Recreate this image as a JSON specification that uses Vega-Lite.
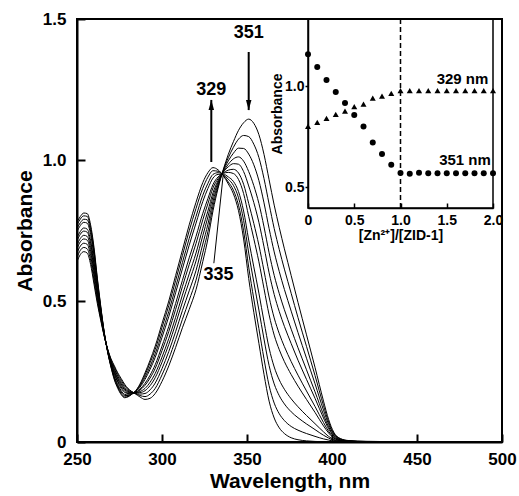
{
"$schema":"https://vega.github.io/schema/vega-lite/v6.json",
"width":425,"height":423,
"autosize":{"type":"none"},
"padding":{"left":77,"top":19,"right":17,"bottom":54},
"config":{
 "view":{"stroke":"black","strokeWidth":2},
 "font":"Liberation Sans",
 "axis":{"grid":false,"domainColor":"black","tickColor":"black","labelColor":"black","titleColor":"black","labelFont":"Liberation Sans","titleFont":"Liberation Sans","labelFontWeight":"bold","titleFontWeight":"bold","labelFlush":false,"labelOverlap":false},
 "text":{"font":"Liberation Sans","fontWeight":"bold","color":"black"}
},
"datasets":{
"spec":[
{"s":0,"w":250,"a":0.64},{"s":1,"w":250,"a":0.655},{"s":2,"w":250,"a":0.671},{"s":3,"w":250,"a":0.686},{"s":4,"w":250,"a":0.699},{"s":5,"w":250,"a":0.714},{"s":6,"w":250,"a":0.725},{"s":7,"w":250,"a":0.746},{"s":8,"w":250,"a":0.758},{"s":9,"w":250,"a":0.77},{"s":10,"w":250,"a":0.78},
{"s":0,"w":252,"a":0.665},{"s":1,"w":252,"a":0.68},{"s":2,"w":252,"a":0.695},{"s":3,"w":252,"a":0.71},{"s":4,"w":252,"a":0.722},{"s":5,"w":252,"a":0.737},{"s":6,"w":252,"a":0.747},{"s":7,"w":252,"a":0.768},{"s":8,"w":252,"a":0.778},{"s":9,"w":252,"a":0.791},{"s":10,"w":252,"a":0.8},
{"s":0,"w":254,"a":0.675},{"s":1,"w":254,"a":0.69},{"s":2,"w":254,"a":0.705},{"s":3,"w":254,"a":0.72},{"s":4,"w":254,"a":0.733},{"s":5,"w":254,"a":0.748},{"s":6,"w":254,"a":0.759},{"s":7,"w":254,"a":0.779},{"s":8,"w":254,"a":0.79},{"s":9,"w":254,"a":0.802},{"s":10,"w":254,"a":0.812},
{"s":0,"w":256,"a":0.67},{"s":1,"w":256,"a":0.685},{"s":2,"w":256,"a":0.701},{"s":3,"w":256,"a":0.716},{"s":4,"w":256,"a":0.729},{"s":5,"w":256,"a":0.744},{"s":6,"w":256,"a":0.755},{"s":7,"w":256,"a":0.776},{"s":8,"w":256,"a":0.788},{"s":9,"w":256,"a":0.8},{"s":10,"w":256,"a":0.81},
{"s":0,"w":258,"a":0.63},{"s":1,"w":258,"a":0.645},{"s":2,"w":258,"a":0.661},{"s":3,"w":258,"a":0.676},{"s":4,"w":258,"a":0.689},{"s":5,"w":258,"a":0.704},{"s":6,"w":258,"a":0.715},{"s":7,"w":258,"a":0.736},{"s":8,"w":258,"a":0.748},{"s":9,"w":258,"a":0.76},{"s":10,"w":258,"a":0.77},
{"s":0,"w":260,"a":0.56},{"s":1,"w":260,"a":0.574},{"s":2,"w":260,"a":0.589},{"s":3,"w":260,"a":0.603},{"s":4,"w":260,"a":0.615},{"s":5,"w":260,"a":0.629},{"s":6,"w":260,"a":0.639},{"s":7,"w":260,"a":0.659},{"s":8,"w":260,"a":0.669},{"s":9,"w":260,"a":0.681},{"s":10,"w":260,"a":0.69},
{"s":0,"w":262,"a":0.49},{"s":1,"w":262,"a":0.5},{"s":2,"w":262,"a":0.51},{"s":3,"w":262,"a":0.52},{"s":4,"w":262,"a":0.528},{"s":5,"w":262,"a":0.538},{"s":6,"w":262,"a":0.545},{"s":7,"w":262,"a":0.558},{"s":8,"w":262,"a":0.566},{"s":9,"w":262,"a":0.574},{"s":10,"w":262,"a":0.58},
{"s":0,"w":264,"a":0.43},{"s":1,"w":264,"a":0.436},{"s":2,"w":264,"a":0.441},{"s":3,"w":264,"a":0.447},{"s":4,"w":264,"a":0.451},{"s":5,"w":264,"a":0.457},{"s":6,"w":264,"a":0.461},{"s":7,"w":264,"a":0.468},{"s":8,"w":264,"a":0.472},{"s":9,"w":264,"a":0.477},{"s":10,"w":264,"a":0.48},
{"s":0,"w":266,"a":0.375},{"s":1,"w":266,"a":0.377},{"s":2,"w":266,"a":0.378},{"s":3,"w":266,"a":0.38},{"s":4,"w":266,"a":0.381},{"s":5,"w":266,"a":0.383},{"s":6,"w":266,"a":0.384},{"s":7,"w":266,"a":0.386},{"s":8,"w":266,"a":0.388},{"s":9,"w":266,"a":0.389},{"s":10,"w":266,"a":0.39},
{"s":0,"w":268,"a":0.33},{"s":1,"w":268,"a":0.329},{"s":2,"w":268,"a":0.328},{"s":3,"w":268,"a":0.327},{"s":4,"w":268,"a":0.326},{"s":5,"w":268,"a":0.325},{"s":6,"w":268,"a":0.324},{"s":7,"w":268,"a":0.322},{"s":8,"w":268,"a":0.322},{"s":9,"w":268,"a":0.321},{"s":10,"w":268,"a":0.32},
{"s":0,"w":270,"a":0.295},{"s":1,"w":270,"a":0.292},{"s":2,"w":270,"a":0.288},{"s":3,"w":270,"a":0.285},{"s":4,"w":270,"a":0.282},{"s":5,"w":270,"a":0.279},{"s":6,"w":270,"a":0.277},{"s":7,"w":270,"a":0.272},{"s":8,"w":270,"a":0.27},{"s":9,"w":270,"a":0.267},{"s":10,"w":270,"a":0.265},
{"s":0,"w":272,"a":0.27},{"s":1,"w":272,"a":0.265},{"s":2,"w":272,"a":0.259},{"s":3,"w":272,"a":0.254},{"s":4,"w":272,"a":0.249},{"s":5,"w":272,"a":0.244},{"s":6,"w":272,"a":0.24},{"s":7,"w":272,"a":0.232},{"s":8,"w":272,"a":0.228},{"s":9,"w":272,"a":0.224},{"s":10,"w":272,"a":0.22},
{"s":0,"w":274,"a":0.245},{"s":1,"w":274,"a":0.239},{"s":2,"w":274,"a":0.233},{"s":3,"w":274,"a":0.227},{"s":4,"w":274,"a":0.222},{"s":5,"w":274,"a":0.216},{"s":6,"w":274,"a":0.211},{"s":7,"w":274,"a":0.203},{"s":8,"w":274,"a":0.199},{"s":9,"w":274,"a":0.194},{"s":10,"w":274,"a":0.19},
{"s":0,"w":276,"a":0.225},{"s":1,"w":276,"a":0.219},{"s":2,"w":276,"a":0.212},{"s":3,"w":276,"a":0.206},{"s":4,"w":276,"a":0.201},{"s":5,"w":276,"a":0.195},{"s":6,"w":276,"a":0.19},{"s":7,"w":276,"a":0.182},{"s":8,"w":276,"a":0.177},{"s":9,"w":276,"a":0.172},{"s":10,"w":276,"a":0.168},
{"s":0,"w":278,"a":0.205},{"s":1,"w":278,"a":0.2},{"s":2,"w":278,"a":0.194},{"s":3,"w":278,"a":0.189},{"s":4,"w":278,"a":0.185},{"s":5,"w":278,"a":0.18},{"s":6,"w":278,"a":0.176},{"s":7,"w":278,"a":0.169},{"s":8,"w":278,"a":0.165},{"s":9,"w":278,"a":0.16},{"s":10,"w":278,"a":0.157},
{"s":0,"w":280,"a":0.19},{"s":1,"w":280,"a":0.187},{"s":2,"w":280,"a":0.183},{"s":3,"w":280,"a":0.18},{"s":4,"w":280,"a":0.177},{"s":5,"w":280,"a":0.174},{"s":6,"w":280,"a":0.172},{"s":7,"w":280,"a":0.167},{"s":8,"w":280,"a":0.165},{"s":9,"w":280,"a":0.162},{"s":10,"w":280,"a":0.16},
{"s":0,"w":282,"a":0.18},{"s":1,"w":282,"a":0.179},{"s":2,"w":282,"a":0.177},{"s":3,"w":282,"a":0.176},{"s":4,"w":282,"a":0.175},{"s":5,"w":282,"a":0.174},{"s":6,"w":282,"a":0.173},{"s":7,"w":282,"a":0.171},{"s":8,"w":282,"a":0.17},{"s":9,"w":282,"a":0.169},{"s":10,"w":282,"a":0.168},
{"s":0,"w":284,"a":0.172},{"s":1,"w":284,"a":0.173},{"s":2,"w":284,"a":0.173},{"s":3,"w":284,"a":0.174},{"s":4,"w":284,"a":0.175},{"s":5,"w":284,"a":0.175},{"s":6,"w":284,"a":0.176},{"s":7,"w":284,"a":0.177},{"s":8,"w":284,"a":0.177},{"s":9,"w":284,"a":0.178},{"s":10,"w":284,"a":0.178},
{"s":0,"w":287,"a":0.16},{"s":1,"w":287,"a":0.165},{"s":2,"w":287,"a":0.17},{"s":3,"w":287,"a":0.175},{"s":4,"w":287,"a":0.179},{"s":5,"w":287,"a":0.184},{"s":6,"w":287,"a":0.187},{"s":7,"w":287,"a":0.194},{"s":8,"w":287,"a":0.198},{"s":9,"w":287,"a":0.202},{"s":10,"w":287,"a":0.205},
{"s":0,"w":290,"a":0.151},{"s":1,"w":290,"a":0.161},{"s":2,"w":290,"a":0.172},{"s":3,"w":290,"a":0.182},{"s":4,"w":290,"a":0.19},{"s":5,"w":290,"a":0.201},{"s":6,"w":290,"a":0.208},{"s":7,"w":290,"a":0.222},{"s":8,"w":290,"a":0.23},{"s":9,"w":290,"a":0.238},{"s":10,"w":290,"a":0.245},
{"s":0,"w":293,"a":0.155},{"s":1,"w":293,"a":0.17},{"s":2,"w":293,"a":0.185},{"s":3,"w":293,"a":0.2},{"s":4,"w":293,"a":0.212},{"s":5,"w":293,"a":0.227},{"s":6,"w":293,"a":0.237},{"s":7,"w":293,"a":0.258},{"s":8,"w":293,"a":0.268},{"s":9,"w":293,"a":0.281},{"s":10,"w":293,"a":0.29},
{"s":0,"w":296,"a":0.172},{"s":1,"w":296,"a":0.19},{"s":2,"w":296,"a":0.209},{"s":3,"w":296,"a":0.228},{"s":4,"w":296,"a":0.243},{"s":5,"w":296,"a":0.261},{"s":6,"w":296,"a":0.274},{"s":7,"w":296,"a":0.3},{"s":8,"w":296,"a":0.313},{"s":9,"w":296,"a":0.328},{"s":10,"w":296,"a":0.34},
{"s":0,"w":300,"a":0.215},{"s":1,"w":300,"a":0.238},{"s":2,"w":300,"a":0.26},{"s":3,"w":300,"a":0.283},{"s":4,"w":300,"a":0.301},{"s":5,"w":300,"a":0.324},{"s":6,"w":300,"a":0.34},{"s":7,"w":300,"a":0.371},{"s":8,"w":300,"a":0.387},{"s":9,"w":300,"a":0.406},{"s":10,"w":300,"a":0.42},
{"s":0,"w":304,"a":0.27},{"s":1,"w":304,"a":0.295},{"s":2,"w":304,"a":0.321},{"s":3,"w":304,"a":0.346},{"s":4,"w":304,"a":0.367},{"s":5,"w":304,"a":0.392},{"s":6,"w":304,"a":0.41},{"s":7,"w":304,"a":0.445},{"s":8,"w":304,"a":0.463},{"s":9,"w":304,"a":0.484},{"s":10,"w":304,"a":0.5},
{"s":0,"w":308,"a":0.335},{"s":1,"w":308,"a":0.363},{"s":2,"w":308,"a":0.391},{"s":3,"w":308,"a":0.419},{"s":4,"w":308,"a":0.442},{"s":5,"w":308,"a":0.47},{"s":6,"w":308,"a":0.491},{"s":7,"w":308,"a":0.529},{"s":8,"w":308,"a":0.549},{"s":9,"w":308,"a":0.572},{"s":10,"w":308,"a":0.59},
{"s":0,"w":312,"a":0.405},{"s":1,"w":312,"a":0.435},{"s":2,"w":312,"a":0.466},{"s":3,"w":312,"a":0.496},{"s":4,"w":312,"a":0.521},{"s":5,"w":312,"a":0.551},{"s":6,"w":312,"a":0.573},{"s":7,"w":312,"a":0.614},{"s":8,"w":312,"a":0.636},{"s":9,"w":312,"a":0.661},{"s":10,"w":312,"a":0.68},
{"s":0,"w":316,"a":0.47},{"s":1,"w":316,"a":0.503},{"s":2,"w":316,"a":0.536},{"s":3,"w":316,"a":0.569},{"s":4,"w":316,"a":0.596},{"s":5,"w":316,"a":0.629},{"s":6,"w":316,"a":0.653},{"s":7,"w":316,"a":0.698},{"s":8,"w":316,"a":0.722},{"s":9,"w":316,"a":0.749},{"s":10,"w":316,"a":0.77},
{"s":0,"w":320,"a":0.54},{"s":1,"w":320,"a":0.574},{"s":2,"w":320,"a":0.608},{"s":3,"w":320,"a":0.642},{"s":4,"w":320,"a":0.67},{"s":5,"w":320,"a":0.704},{"s":6,"w":320,"a":0.729},{"s":7,"w":320,"a":0.776},{"s":8,"w":320,"a":0.8},{"s":9,"w":320,"a":0.828},{"s":10,"w":320,"a":0.85},
{"s":0,"w":324,"a":0.64},{"s":1,"w":324,"a":0.671},{"s":2,"w":324,"a":0.702},{"s":3,"w":324,"a":0.732},{"s":4,"w":324,"a":0.758},{"s":5,"w":324,"a":0.788},{"s":6,"w":324,"a":0.811},{"s":7,"w":324,"a":0.853},{"s":8,"w":324,"a":0.875},{"s":9,"w":324,"a":0.9},{"s":10,"w":324,"a":0.92},
{"s":0,"w":327,"a":0.72},{"s":1,"w":327,"a":0.746},{"s":2,"w":327,"a":0.772},{"s":3,"w":327,"a":0.798},{"s":4,"w":327,"a":0.819},{"s":5,"w":327,"a":0.845},{"s":6,"w":327,"a":0.863},{"s":7,"w":327,"a":0.899},{"s":8,"w":327,"a":0.917},{"s":9,"w":327,"a":0.939},{"s":10,"w":327,"a":0.955},
{"s":0,"w":330,"a":0.82},{"s":1,"w":330,"a":0.837},{"s":2,"w":330,"a":0.854},{"s":3,"w":330,"a":0.87},{"s":4,"w":330,"a":0.884},{"s":5,"w":330,"a":0.901},{"s":6,"w":330,"a":0.913},{"s":7,"w":330,"a":0.936},{"s":8,"w":330,"a":0.949},{"s":9,"w":330,"a":0.962},{"s":10,"w":330,"a":0.973},
{"s":0,"w":333,"a":0.9},{"s":1,"w":333,"a":0.907},{"s":2,"w":333,"a":0.914},{"s":3,"w":333,"a":0.921},{"s":4,"w":333,"a":0.927},{"s":5,"w":333,"a":0.934},{"s":6,"w":333,"a":0.94},{"s":7,"w":333,"a":0.949},{"s":8,"w":333,"a":0.955},{"s":9,"w":333,"a":0.96},{"s":10,"w":333,"a":0.965},
{"s":0,"w":336,"a":0.965},{"s":1,"w":336,"a":0.963},{"s":2,"w":336,"a":0.961},{"s":3,"w":336,"a":0.958},{"s":4,"w":336,"a":0.957},{"s":5,"w":336,"a":0.954},{"s":6,"w":336,"a":0.953},{"s":7,"w":336,"a":0.95},{"s":8,"w":336,"a":0.948},{"s":9,"w":336,"a":0.946},{"s":10,"w":336,"a":0.945},
{"s":0,"w":339,"a":1.02},{"s":1,"w":339,"a":1.008},{"s":2,"w":339,"a":0.997},{"s":3,"w":339,"a":0.985},{"s":4,"w":339,"a":0.976},{"s":5,"w":339,"a":0.964},{"s":6,"w":339,"a":0.956},{"s":7,"w":339,"a":0.94},{"s":8,"w":339,"a":0.932},{"s":9,"w":339,"a":0.922},{"s":10,"w":339,"a":0.915},
{"s":0,"w":342,"a":1.065},{"s":1,"w":342,"a":1.045},{"s":2,"w":342,"a":1.024},{"s":3,"w":342,"a":1.004},{"s":4,"w":342,"a":0.987},{"s":5,"w":342,"a":0.967},{"s":6,"w":342,"a":0.952},{"s":7,"w":342,"a":0.924},{"s":8,"w":342,"a":0.91},{"s":9,"w":342,"a":0.893},{"s":10,"w":342,"a":0.88},
{"s":0,"w":345,"a":1.105},{"s":1,"w":345,"a":1.074},{"s":2,"w":345,"a":1.042},{"s":3,"w":345,"a":1.011},{"s":4,"w":345,"a":0.985},{"s":5,"w":345,"a":0.954},{"s":6,"w":345,"a":0.931},{"s":7,"w":345,"a":0.888},{"s":8,"w":345,"a":0.866},{"s":9,"w":345,"a":0.84},{"s":10,"w":345,"a":0.82},
{"s":0,"w":348,"a":1.132},{"s":1,"w":348,"a":1.087},{"s":2,"w":348,"a":1.041},{"s":3,"w":348,"a":0.996},{"s":4,"w":348,"a":0.959},{"s":5,"w":348,"a":0.914},{"s":6,"w":348,"a":0.881},{"s":7,"w":348,"a":0.819},{"s":8,"w":348,"a":0.786},{"s":9,"w":348,"a":0.749},{"s":10,"w":348,"a":0.72},
{"s":0,"w":351,"a":1.145},{"s":1,"w":351,"a":1.083},{"s":2,"w":351,"a":1.021},{"s":3,"w":351,"a":0.959},{"s":4,"w":351,"a":0.908},{"s":5,"w":351,"a":0.846},{"s":6,"w":351,"a":0.8},{"s":7,"w":351,"a":0.716},{"s":8,"w":351,"a":0.67},{"s":9,"w":351,"a":0.62},{"s":10,"w":351,"a":0.58},
{"s":0,"w":354,"a":1.13},{"s":1,"w":354,"a":1.056},{"s":2,"w":354,"a":0.983},{"s":3,"w":354,"a":0.909},{"s":4,"w":354,"a":0.849},{"s":5,"w":354,"a":0.775},{"s":6,"w":354,"a":0.721},{"s":7,"w":354,"a":0.621},{"s":8,"w":354,"a":0.567},{"s":9,"w":354,"a":0.507},{"s":10,"w":354,"a":0.46},
{"s":0,"w":357,"a":1.09},{"s":1,"w":357,"a":1.009},{"s":2,"w":357,"a":0.927},{"s":3,"w":357,"a":0.846},{"s":4,"w":357,"a":0.779},{"s":5,"w":357,"a":0.698},{"s":6,"w":357,"a":0.639},{"s":7,"w":357,"a":0.528},{"s":8,"w":357,"a":0.468},{"s":9,"w":357,"a":0.402},{"s":10,"w":357,"a":0.35},
{"s":0,"w":360,"a":1.02},{"s":1,"w":360,"a":0.934},{"s":2,"w":360,"a":0.848},{"s":3,"w":360,"a":0.763},{"s":4,"w":360,"a":0.692},{"s":5,"w":360,"a":0.607},{"s":6,"w":360,"a":0.544},{"s":7,"w":360,"a":0.427},{"s":8,"w":360,"a":0.365},{"s":9,"w":360,"a":0.295},{"s":10,"w":360,"a":0.24},
{"s":0,"w":363,"a":0.93},{"s":1,"w":363,"a":0.844},{"s":2,"w":363,"a":0.757},{"s":3,"w":363,"a":0.671},{"s":4,"w":363,"a":0.6},{"s":5,"w":363,"a":0.514},{"s":6,"w":363,"a":0.451},{"s":7,"w":363,"a":0.333},{"s":8,"w":363,"a":0.271},{"s":9,"w":363,"a":0.2},{"s":10,"w":363,"a":0.145},
{"s":0,"w":366,"a":0.84},{"s":1,"w":366,"a":0.757},{"s":2,"w":366,"a":0.674},{"s":3,"w":366,"a":0.591},{"s":4,"w":366,"a":0.523},{"s":5,"w":366,"a":0.44},{"s":6,"w":366,"a":0.379},{"s":7,"w":366,"a":0.266},{"s":8,"w":366,"a":0.206},{"s":9,"w":366,"a":0.138},{"s":10,"w":366,"a":0.085},
{"s":0,"w":369,"a":0.76},{"s":1,"w":369,"a":0.682},{"s":2,"w":369,"a":0.604},{"s":3,"w":369,"a":0.526},{"s":4,"w":369,"a":0.462},{"s":5,"w":369,"a":0.384},{"s":6,"w":369,"a":0.327},{"s":7,"w":369,"a":0.22},{"s":8,"w":369,"a":0.164},{"s":9,"w":369,"a":0.1},{"s":10,"w":369,"a":0.05},
{"s":0,"w":372,"a":0.685},{"s":1,"w":372,"a":0.613},{"s":2,"w":372,"a":0.541},{"s":3,"w":372,"a":0.469},{"s":4,"w":372,"a":0.41},{"s":5,"w":372,"a":0.338},{"s":6,"w":372,"a":0.285},{"s":7,"w":372,"a":0.187},{"s":8,"w":372,"a":0.135},{"s":9,"w":372,"a":0.076},{"s":10,"w":372,"a":0.03},
{"s":0,"w":376,"a":0.59},{"s":1,"w":376,"a":0.527},{"s":2,"w":376,"a":0.464},{"s":3,"w":376,"a":0.4},{"s":4,"w":376,"a":0.349},{"s":5,"w":376,"a":0.285},{"s":6,"w":376,"a":0.239},{"s":7,"w":376,"a":0.153},{"s":8,"w":376,"a":0.107},{"s":9,"w":376,"a":0.055},{"s":10,"w":376,"a":0.015},
{"s":0,"w":380,"a":0.495},{"s":1,"w":380,"a":0.441},{"s":2,"w":380,"a":0.388},{"s":3,"w":380,"a":0.334},{"s":4,"w":380,"a":0.29},{"s":5,"w":380,"a":0.237},{"s":6,"w":380,"a":0.198},{"s":7,"w":380,"a":0.125},{"s":8,"w":380,"a":0.086},{"s":9,"w":380,"a":0.042},{"s":10,"w":380,"a":0.008},
{"s":0,"w":385,"a":0.38},{"s":1,"w":385,"a":0.339},{"s":2,"w":385,"a":0.297},{"s":3,"w":385,"a":0.256},{"s":4,"w":385,"a":0.222},{"s":5,"w":385,"a":0.181},{"s":6,"w":385,"a":0.151},{"s":7,"w":385,"a":0.094},{"s":8,"w":385,"a":0.064},{"s":9,"w":385,"a":0.03},{"s":10,"w":385,"a":0.004},
{"s":0,"w":390,"a":0.265},{"s":1,"w":390,"a":0.236},{"s":2,"w":390,"a":0.207},{"s":3,"w":390,"a":0.178},{"s":4,"w":390,"a":0.155},{"s":5,"w":390,"a":0.126},{"s":6,"w":390,"a":0.105},{"s":7,"w":390,"a":0.065},{"s":8,"w":390,"a":0.044},{"s":9,"w":390,"a":0.02},{"s":10,"w":390,"a":0.002},
{"s":0,"w":395,"a":0.145},{"s":1,"w":395,"a":0.129},{"s":2,"w":395,"a":0.113},{"s":3,"w":395,"a":0.097},{"s":4,"w":395,"a":0.085},{"s":5,"w":395,"a":0.069},{"s":6,"w":395,"a":0.057},{"s":7,"w":395,"a":0.036},{"s":8,"w":395,"a":0.024},{"s":9,"w":395,"a":0.011},{"s":10,"w":395,"a":0.001},
{"s":0,"w":398,"a":0.08},{"s":1,"w":398,"a":0.071},{"s":2,"w":398,"a":0.063},{"s":3,"w":398,"a":0.054},{"s":4,"w":398,"a":0.047},{"s":5,"w":398,"a":0.038},{"s":6,"w":398,"a":0.032},{"s":7,"w":398,"a":0.02},{"s":8,"w":398,"a":0.014},{"s":9,"w":398,"a":0.007},{"s":10,"w":398,"a":0.001},
{"s":0,"w":401,"a":0.035},{"s":1,"w":401,"a":0.031},{"s":2,"w":401,"a":0.028},{"s":3,"w":401,"a":0.024},{"s":4,"w":401,"a":0.021},{"s":5,"w":401,"a":0.017},{"s":6,"w":401,"a":0.014},{"s":7,"w":401,"a":0.009},{"s":8,"w":401,"a":0.006},{"s":9,"w":401,"a":0.003},{"s":10,"w":401,"a":0.001},
{"s":0,"w":405,"a":0.012},{"s":1,"w":405,"a":0.011},{"s":2,"w":405,"a":0.01},{"s":3,"w":405,"a":0.008},{"s":4,"w":405,"a":0.007},{"s":5,"w":405,"a":0.006},{"s":6,"w":405,"a":0.005},{"s":7,"w":405,"a":0.004},{"s":8,"w":405,"a":0.003},{"s":9,"w":405,"a":0.002},{"s":10,"w":405,"a":0.001},
{"s":0,"w":410,"a":0.005},{"s":1,"w":410,"a":0.004},{"s":2,"w":410,"a":0.004},{"s":3,"w":410,"a":0.003},{"s":4,"w":410,"a":0.003},{"s":5,"w":410,"a":0.002},{"s":6,"w":410,"a":0.002},{"s":7,"w":410,"a":0.001},{"s":8,"w":410,"a":0.001},{"s":9,"w":410,"a":0.001},{"s":10,"w":410,"a":0},
{"s":0,"w":420,"a":0.002},{"s":1,"w":420,"a":0.002},{"s":2,"w":420,"a":0.002},{"s":3,"w":420,"a":0.001},{"s":4,"w":420,"a":0.001},{"s":5,"w":420,"a":0.001},{"s":6,"w":420,"a":0.001},{"s":7,"w":420,"a":0},{"s":8,"w":420,"a":0},{"s":9,"w":420,"a":0},{"s":10,"w":420,"a":0},
{"s":0,"w":450,"a":0.001},{"s":1,"w":450,"a":0.001},{"s":2,"w":450,"a":0.001},{"s":3,"w":450,"a":0.001},{"s":4,"w":450,"a":0.001},{"s":5,"w":450,"a":0.001},{"s":6,"w":450,"a":0.001},{"s":7,"w":450,"a":0.001},{"s":8,"w":450,"a":0.001},{"s":9,"w":450,"a":0.001},{"s":10,"w":450,"a":0.001},
{"s":0,"w":500,"a":0},{"s":1,"w":500,"a":0},{"s":2,"w":500,"a":0},{"s":3,"w":500,"a":0},{"s":4,"w":500,"a":0},{"s":5,"w":500,"a":0},{"s":6,"w":500,"a":0},{"s":7,"w":500,"a":0},{"s":8,"w":500,"a":0},{"s":9,"w":500,"a":0},{"s":10,"w":500,"a":0}
],
"inset":[
{"r":0,"v":1.158,"k":"351 nm"},{"r":0.1,"v":1.094,"k":"351 nm"},{"r":0.2,"v":1.03,"k":"351 nm"},{"r":0.3,"v":0.97,"k":"351 nm"},{"r":0.4,"v":0.916,"k":"351 nm"},{"r":0.5,"v":0.857,"k":"351 nm"},{"r":0.6,"v":0.8,"k":"351 nm"},{"r":0.7,"v":0.72,"k":"351 nm"},{"r":0.8,"v":0.664,"k":"351 nm"},{"r":0.9,"v":0.61,"k":"351 nm"},{"r":1.0,"v":0.569,"k":"351 nm"},{"r":1.1,"v":0.566,"k":"351 nm"},{"r":1.2,"v":0.57,"k":"351 nm"},{"r":1.3,"v":0.568,"k":"351 nm"},{"r":1.4,"v":0.568,"k":"351 nm"},{"r":1.5,"v":0.568,"k":"351 nm"},{"r":1.6,"v":0.568,"k":"351 nm"},{"r":1.7,"v":0.568,"k":"351 nm"},{"r":1.8,"v":0.568,"k":"351 nm"},{"r":1.9,"v":0.568,"k":"351 nm"},{"r":2.0,"v":0.568,"k":"351 nm"},
{"r":0,"v":0.8,"k":"329 nm"},{"r":0.1,"v":0.82,"k":"329 nm"},{"r":0.2,"v":0.84,"k":"329 nm"},{"r":0.3,"v":0.86,"k":"329 nm"},{"r":0.4,"v":0.876,"k":"329 nm"},{"r":0.5,"v":0.898,"k":"329 nm"},{"r":0.6,"v":0.91,"k":"329 nm"},{"r":0.7,"v":0.94,"k":"329 nm"},{"r":0.8,"v":0.95,"k":"329 nm"},{"r":0.9,"v":0.964,"k":"329 nm"},{"r":1.0,"v":0.977,"k":"329 nm"},{"r":1.1,"v":0.977,"k":"329 nm"},{"r":1.2,"v":0.977,"k":"329 nm"},{"r":1.3,"v":0.977,"k":"329 nm"},{"r":1.4,"v":0.977,"k":"329 nm"},{"r":1.5,"v":0.977,"k":"329 nm"},{"r":1.6,"v":0.977,"k":"329 nm"},{"r":1.7,"v":0.977,"k":"329 nm"},{"r":1.8,"v":0.977,"k":"329 nm"},{"r":1.9,"v":0.977,"k":"329 nm"},{"r":2.0,"v":0.977,"k":"329 nm"}
]
},
"layer":[
{
 "layer":[
  {
   "data":{"name":"spec"},
   "mark":{"type":"line","color":"black","strokeWidth":1,"interpolate":"monotone"},
   "encoding":{
    "x":{"field":"w","type":"quantitative","scale":{"domain":[250,500],"nice":false,"zero":false},
         "axis":{"values":[250,300,350,400,450,500],"title":"Wavelength, nm","orient":"bottom","tickSize":-8,"tickWidth":2,"domainWidth":2,"labelPadding":17.5,"labelFontSize":17,"titleFontSize":21,"titlePadding":3}},
    "y":{"field":"a","type":"quantitative","scale":{"domain":[0,1.5],"nice":false,"zero":false},
         "axis":{"values":[0,0.5,1,1.5],"labelExpr":"datum.value===0?'0':format(datum.value,'.1f')","title":"Absorbance","orient":"left","tickSize":-8,"tickWidth":2,"domainWidth":2,"labelPadding":19,"labelFontSize":17,"titleFontSize":21,"titlePadding":7}},
    "detail":{"field":"s","type":"nominal"}
   }
  },
  {
   "data":{"values":[{"w":329,"a":0.993,"a2":1.213},{"w":351,"a":1.383,"a2":1.177}]},
   "mark":{"type":"rule","color":"black","strokeWidth":2},
   "encoding":{"x":{"field":"w","type":"quantitative"},"y":{"field":"a","type":"quantitative"},"y2":{"field":"a2"}}
  },
  {
   "data":{"values":[{"w":329,"a":1.213,"d":"up"},{"w":351,"a":1.177,"d":"down"}]},
   "mark":{"type":"point","filled":true,"color":"black","opacity":1,"size":100,"strokeWidth":0},
   "encoding":{"x":{"field":"w","type":"quantitative"},"y":{"field":"a","type":"quantitative"},
     "shape":{"field":"d","type":"nominal","scale":{"domain":["up","down"],"range":["M0,0L0.55,2L-0.55,2Z","M0,0L0.55,-2L-0.55,-2Z"]},"legend":null}}
  },
  {
   "data":{"values":[{"w":336,"a":0.947,"w2":330.5,"a2":0.634}]},
   "mark":{"type":"rule","color":"black","strokeWidth":1},
   "encoding":{"x":{"field":"w","type":"quantitative"},"y":{"field":"a","type":"quantitative"},"x2":{"field":"w2"},"y2":{"field":"a2"}}
  },
  {
   "data":{"values":[{"w":329,"a":1.248,"t":"329"},{"w":351,"a":1.45,"t":"351"},{"w":333.3,"a":0.592,"t":"335"}]},
   "mark":{"type":"text","fontSize":18,"fontWeight":"bold","align":"center","baseline":"middle"},
   "encoding":{"x":{"field":"w","type":"quantitative"},"y":{"field":"a","type":"quantitative"},"text":{"field":"t"}}
  }
 ]
},
{
 "layer":[
  {
   "data":{"name":"inset"},
   "mark":{"type":"point","filled":true,"color":"black","opacity":1,"size":36},
   "encoding":{
    "x":{"field":"r","type":"quantitative","scale":{"domain":[0,2],"range":[231,416],"nice":false,"zero":false},
         "axis":{"values":[0,0.5,1,1.5,2],"labelExpr":"datum.value===0?'0':format(datum.value,'.1f')","title":"[Zn²⁺]/[ZID-1]","orient":"bottom","offset":-234,"tickSize":-5,"tickWidth":1.5,"domainWidth":1.5,"labelPadding":10,"labelFontSize":14,"titleFontSize":14,"titlePadding":1}},
    "y":{"field":"v","type":"quantitative","scale":{"domain":[0.396,1.332],"range":[189,0],"nice":false,"zero":false},
         "axis":{"values":[0.5,1],"format":".1f","title":"Absorbance","orient":"left","offset":-231,"tickSize":3,"tickWidth":1.5,"domainWidth":1.5,"labelPadding":1,"labelFontSize":14,"titleFontSize":14,"titlePadding":0}},
    "shape":{"field":"k","type":"nominal","scale":{"domain":["351 nm","329 nm"],"range":["circle","triangle-up"]},"legend":null}
   }
  },
  {
   "data":{"values":[{}]},
   "mark":{"type":"rect","filled":false,"stroke":"black","strokeWidth":1.5},
   "encoding":{"x":{"datum":0,"type":"quantitative"},"x2":{"datum":2},"y":{"datum":0.396,"type":"quantitative"},"y2":{"datum":1.332}}
  },
  {
   "data":{"values":[{}]},
   "mark":{"type":"rule","color":"black","strokeWidth":1.5,"strokeDash":[5,3]},
   "encoding":{"x":{"datum":1,"type":"quantitative"},"y":{"datum":0.396,"type":"quantitative"},"y2":{"datum":1.332}}
  },
  {
   "data":{"values":[{"r":1.67,"v":1.035,"t":"329 nm"},{"r":1.697,"v":0.634,"t":"351 nm"}]},
   "mark":{"type":"text","fontSize":15,"fontWeight":"bold","align":"center","baseline":"middle"},
   "encoding":{"x":{"field":"r","type":"quantitative"},"y":{"field":"v","type":"quantitative"},"text":{"field":"t"}}
  }
 ]
}
],
"resolve":{"scale":{"x":"independent","y":"independent","shape":"independent"},"axis":{"x":"independent","y":"independent"}}
}
